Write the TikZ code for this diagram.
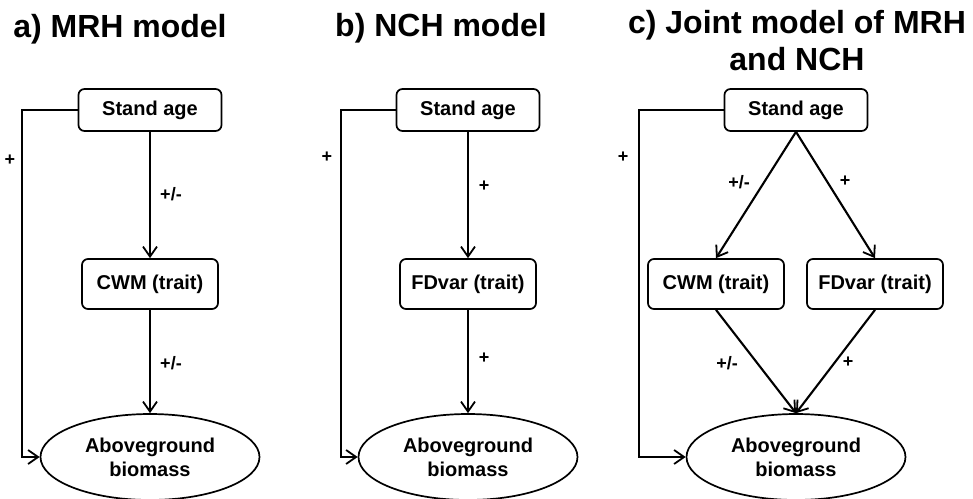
\documentclass[tikz,border=0pt]{standalone}
\usepackage{fontspec}
\setmainfont{Liberation Sans}
\usetikzlibrary{arrows.meta,shapes.geometric,positioning}

\begin{document}
\begin{tikzpicture}[
        x=1pt,
        y=-1pt,
        wire/.style={line width=2.1pt},
        title/.style={anchor=base, font=\fontsize{32}{37}\selectfont\bfseries, align=center},
        varbox/.style={draw, line width=1.7pt, rounded corners=6pt, inner sep=0pt,
            font=\fontsize{20}{24}\selectfont\bfseries},
        agebox/.style={varbox, minimum width=143pt, minimum height=42pt},
        traitbox/.style={varbox, minimum width=136pt, minimum height=50pt},
        biomass/.style={draw, ellipse, line width=1.7pt, inner sep=0pt, minimum width=219pt,
            minimum height=86pt, align=center, font=\fontsize{20}{24}\selectfont\bfseries},
        sign/.style={font=\fontsize{18}{21}\selectfont\bfseries, inner sep=0pt},
        >={Straight Barb[length=10pt,width=14pt,line width=1.8pt]}
    ]
        \useasboundingbox (0,0) rectangle (973,498);

        % a) MRH
        \node[title] (ta) at (120,37) {a) MRH model};
        \node[agebox] (sa1) at (150,110) {Stand age};
        \node[traitbox] (cwm1) at (150,284) {CWM (trait)};
        \node[biomass] (ab1) at (150,457) {Aboveground\\biomass};
        \draw[wire, ->] (sa1) -- (cwm1);
        \draw[wire, ->] (cwm1) -- (ab1);
        \draw[wire, ->] (sa1.west) -- ++(-56,0) |- (ab1.west);
        \node[sign] (s1a) at (10,160) {+};
        \node[sign] (s1b) at (171,194) {+/-};
        \node[sign] (s1c) at (171,363) {+/-};

        % b) NCH
        \node[title] (tb) at (441,36) {b) NCH model};
        \node[agebox] (sa2) at (468,110) {Stand age};
        \node[traitbox] (fd2) at (468,284) {FDvar (trait)};
        \node[biomass] (ab2) at (468,457) {Aboveground\\biomass};
        \draw[wire, ->] (sa2) -- (fd2);
        \draw[wire, ->] (fd2) -- (ab2);
        \draw[wire, ->] (sa2.west) -- ++(-55,0) |- (ab2.west);
        \node[sign] (s2a) at (327,157) {+};
        \node[sign] (s2b) at (484,186) {+};
        \node[sign] (s2c) at (484,358) {+};

        % c) joint model (base = last line)
        \node[title] (tc) at (797,70) {c) Joint model of MRH\\and NCH};
        \node[agebox] (sa3) at (796,110) {Stand age};
        \node[traitbox] (cwm3) at (716,284) {CWM (trait)};
        \node[traitbox] (fd3) at (875,284) {FDvar (trait)};
        \node[biomass] (ab3) at (796,457) {Aboveground\\biomass};
        \draw[wire, ->] (sa3.south) -- (cwm3.north);
        \draw[wire, ->] (sa3.south) -- (fd3.north);
        \draw[wire, ->] (cwm3.south) -- (ab3.north);
        \draw[wire, ->] (fd3.south) -- (ab3.north);
        \draw[wire, ->] (sa3.west) -- ++(-85,0) |- (ab3.west);
        \node[sign] (s3a) at (623,157) {+};
        \node[sign] (s3b) at (739,182) {+/-};
        \node[sign] (s3c) at (845,181) {+};
        \node[sign] (s3d) at (727,363) {+/-};
        \node[sign] (s3e) at (848,362) {+};
    \end{tikzpicture}
\end{document}
